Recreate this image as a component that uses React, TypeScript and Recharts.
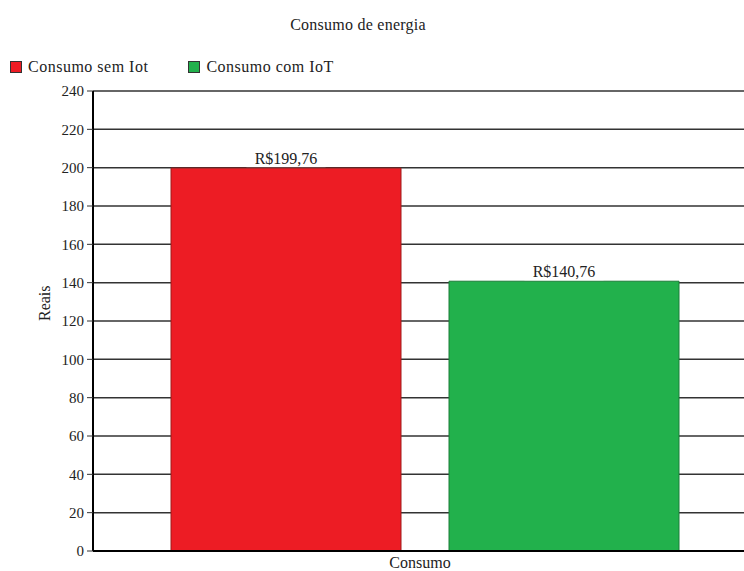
import { BarChart, Bar, XAxis, YAxis, CartesianGrid, LabelList } from "recharts";

const categories = ["Consumo"];
const semIot = [199.76];
const comIot = [140.76];
const seriesNames = ["Consumo sem Iot", "Consumo com IoT"];
const seriesColors = ["#ED1C24", "#22B14C"];
const seriesStrokes = ["#9e1a1a", "#1b7d38"];
const yTicks = [0, 20, 40, 60, 80, 100, 120, 140, 160, 180, 200, 220, 240];

const data = categories.map((name, i) => ({ name, semIot: semIot[i], comIot: comIot[i] }));

const FONT = "'Liberation Serif', 'DejaVu Serif', serif";

const fmt = (v: number) => `R$${v.toFixed(2).replace(".", ",")}`;

function ValueLabel(props: any) {
  const { x, y, width, value } = props;
  const cx = x + width / 2;
  const text = fmt(value);
  const w = text.length * 9.4 + 4;
  return (
    <g>
      <rect x={cx - w / 2} y={y - 19} width={w} height={18} fill="#fff" />
      <text x={cx} y={y - 4} textAnchor="middle" fontFamily={FONT} fontSize={16} fill="#222">
        {text}
      </text>
    </g>
  );
}

export default function App() {
  return (
    <div style={{ position: "absolute", left: 0, top: 0, width: 744, height: 571, background: "#fff", fontFamily: FONT }}>
      <div style={{ position: "absolute", top: 16, left: 0, width: 716, textAlign: "center", fontSize: 16, letterSpacing: 0.25, color: "#222" }}>
        Consumo de energia
      </div>
      <div style={{ position: "absolute", top: 58, left: 10, display: "flex", fontSize: 16, letterSpacing: 0.5, color: "#222" }}>
        {seriesNames.map((n, i) => (
          <div key={n} style={{ display: "flex", alignItems: "center", marginRight: 40 }}>
            <span
              style={{
                display: "inline-block",
                width: 10,
                height: 10,
                background: seriesColors[i],
                border: "1px solid #333",
                marginRight: 6,
              }}
            />
            <span>{n}</span>
          </div>
        ))}
      </div>
      <BarChart
        width={744}
        height={571}
        data={data}
        margin={{ top: 91, right: -13, bottom: 0, left: 33 }}
        barCategoryGap={78}
        barGap={48}
        style={{ position: "absolute", left: 0, top: 0 }}
      >
        <CartesianGrid vertical={false} stroke="#333" strokeWidth={1.5} />
        <XAxis
          dataKey="name"
          height={20}
          axisLine={{ stroke: "#000", strokeWidth: 2 }}
          tickLine={false}
          tick={{ fontFamily: FONT, fontSize: 16, fill: "#222", dx: -5 }}
          tickMargin={0}
        />
        <YAxis
          width={60}
          domain={[0, 240]}
          ticks={yTicks}
          interval={0}
          axisLine={{ stroke: "#000", strokeWidth: 2 }}
          tickLine={{ stroke: "#333" }}
          tickSize={6}
          tickMargin={3}
          tick={{ fontFamily: FONT, fontSize: 15, fill: "#222" }}
          label={{ value: "Reais", angle: -90, position: "insideLeft", offset: 11, fontFamily: FONT, fontSize: 16, fill: "#222" }}
        />
        <Bar dataKey="semIot" name={seriesNames[0]} fill={seriesColors[0]} stroke={seriesStrokes[0]} barSize={230} isAnimationActive={false}>
          <LabelList dataKey="semIot" content={ValueLabel} />
        </Bar>
        <Bar dataKey="comIot" name={seriesNames[1]} fill={seriesColors[1]} stroke={seriesStrokes[1]} barSize={230} isAnimationActive={false}>
          <LabelList dataKey="comIot" content={ValueLabel} />
        </Bar>
      </BarChart>
    </div>
  );
}
